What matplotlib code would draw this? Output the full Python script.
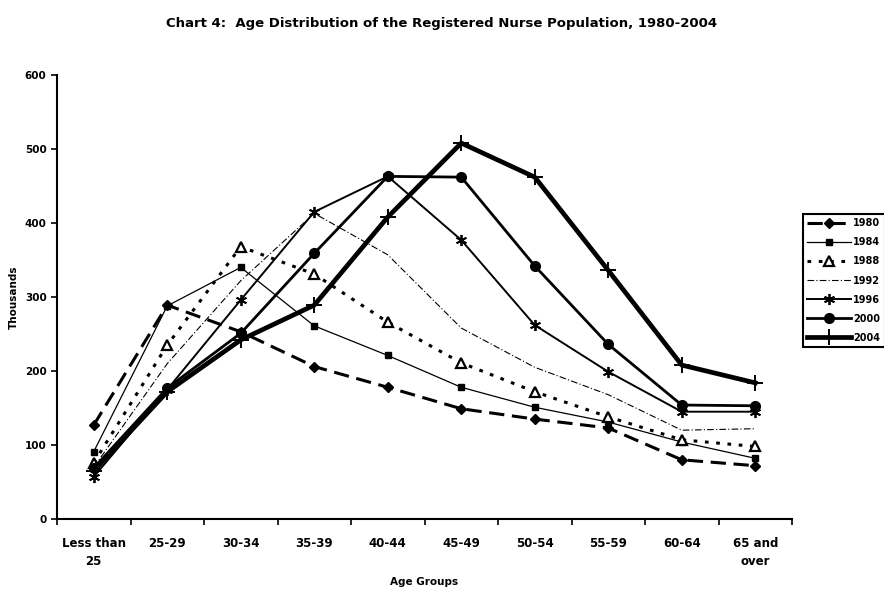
import matplotlib
matplotlib.use("Agg")
import matplotlib.pyplot as plt
import numpy as np

plt.rcParams["font.family"] = ["DejaVu Sans"]
plt.rcParams["font.weight"] = "bold"

age_groups = ["Less than\n25", "25-29", "30-34", "35-39", "40-44", "45-49",
              "50-54", "55-59", "60-64", "65 and\nover"]

y1980 = [127, 289, 253, 206, 178, 149, 135, 123, 80, 72]
y1984 = [91, 288, 340, 261, 221, 178, 151, 131, 104, 82]
y1988 = [76, 235, 368, 331, 266, 211, 172, 138, 107, 98]
y1992 = [70, 210, 322, 413, 357, 258, 205, 168, 120, 122]
y1996 = [57, 175, 296, 415, 463, 377, 262, 199, 145, 145]
y2000 = [69, 177, 251, 359, 463, 462, 342, 236, 154, 153]
y2004 = [65, 172, 242, 289, 408, 508, 462, 336, 208, 184]

years = ["1980", "1984", "1988", "1992", "1996", "2000", "2004"]
series = [y1980, y1984, y1988, y1992, y1996, y2000, y2004]

# one style per year, all black like the original print
styles = [
    dict(ls=(0, (5, 2.5)), lw=2.2, marker="D", ms=5.5, mfc="black"),
    dict(ls="-", lw=0.9, marker="s", ms=4, mfc="black"),
    dict(ls=(0, (1.2, 2.5)), lw=2.2, marker="^", ms=7, mfc="white", mew=1.6),
    dict(ls=(0, (6, 2, 1, 2)), lw=0.8, marker="none"),
    dict(ls="-", lw=1.4, marker=(6, 2, 0), ms=8, mew=1.3),
    dict(ls="-", lw=2.0, marker="o", ms=7, mfc="black"),
    dict(ls="-", lw=3.4, marker="+", ms=11, mew=1.4),
]

fig = plt.figure(figsize=(8.84, 5.92), dpi=100)
ax = fig.add_axes([57 / 884, 1 - 519 / 592, (792 - 57) / 884, (519 - 75) / 592])

x = np.arange(len(age_groups))
for yr, vals, st in zip(years, series, styles):
    ax.plot(x, vals, color="black", label=yr, **st)

ax.set_xlim(-0.5, len(age_groups) - 0.5)
ax.set_ylim(0, 600)
ax.set_yticks(range(0, 601, 100))

# ticks between categories, labels centred on them
ax.set_xticks(np.arange(-0.5, len(age_groups), 1.0))
ax.set_xticklabels([])
ax.set_xticks(x, minor=True)
ax.set_xticklabels(age_groups, minor=True, fontsize=8.5, fontweight="bold", linespacing=1.45)
ax.tick_params(axis="x", which="major", direction="out", length=4, width=1.2)
ax.tick_params(axis="x", which="minor", length=0, pad=13)
ax.tick_params(axis="y", direction="out", length=4, width=1.2, labelsize=7.5)

for side in ["top", "right"]:
    ax.spines[side].set_visible(False)
for side in ["left", "bottom"]:
    ax.spines[side].set_linewidth(1.5)

ax.set_xlabel("Age Groups", fontsize=7.5, fontweight="bold", labelpad=7)
ax.set_ylabel("Thousands", fontsize=7.5, fontweight="bold", labelpad=4)

fig.text(0.5, 1 - 23 / 592, "Chart 4:  Age Distribution of the Registered Nurse Population, 1980-2004",
         ha="center", va="center", fontsize=9.5, fontweight="bold")

leg = ax.legend(loc="upper left", bbox_to_anchor=(803 / 884, 1 - 214 / 592),
                bbox_transform=fig.transFigure, borderaxespad=0, fancybox=False,
                edgecolor="black", fontsize=7, handlelength=4.5, handletextpad=0.2,
                labelspacing=0.93, borderpad=0.45, framealpha=1)
leg.get_frame().set_linewidth(1.5)

fig.savefig("out.png", dpi=100)
